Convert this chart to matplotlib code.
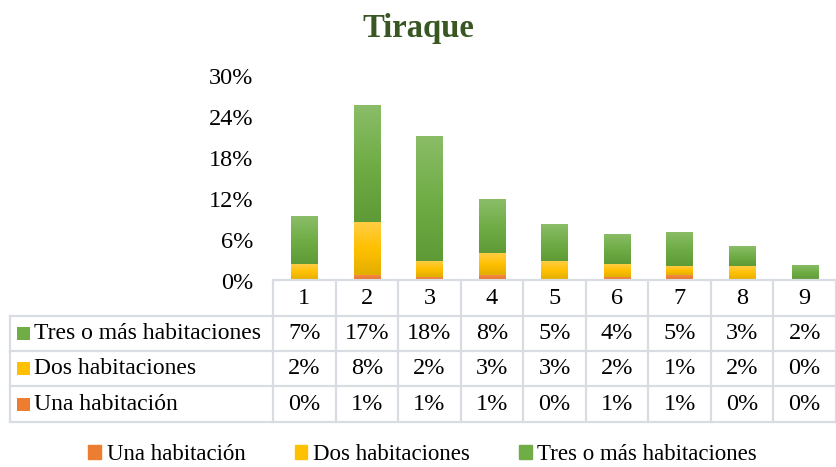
import numpy as np
import matplotlib
matplotlib.use("Agg")
import matplotlib.pyplot as plt
from matplotlib.colors import LinearSegmentedColormap
from matplotlib.lines import Line2D
from matplotlib.patches import Rectangle
from matplotlib.transforms import blended_transform_factory

plt.rcParams['font.family'] = ['Liberation Serif', 'DejaVu Serif']

categories = ['1', '2', '3', '4', '5', '6', '7', '8', '9']
series_names = ['Una habitación', 'Dos habitaciones', 'Tres o más habitaciones']
una = [0.002, 0.009, 0.006, 0.009, 0.002, 0.006, 0.009, 0.002, 0.000]
dos = [0.023, 0.077, 0.023, 0.032, 0.027, 0.019, 0.013, 0.020, 0.001]
tres = [0.070, 0.172, 0.183, 0.079, 0.054, 0.044, 0.050, 0.029, 0.022]
yticks = [0, 0.06, 0.12, 0.18, 0.24, 0.30]

# gradient stops (top, middle, bottom) per series
grad = {
    'Una habitación': ['#f6925a', '#ed7d31', '#d96a1f'],
    'Dos habitaciones': ['#ffcd45', '#ffc000', '#e3ae00'],
    'Tres o más habitaciones': ['#8bbd68', '#70ad47', '#5e9b36'],
}
grid_col = '#d9dde3'
W, H = 837, 467
fs = 17.5

fig = plt.figure(figsize=(W / 100, H / 100), dpi=100)
ax = fig.add_axes([273 / W, 1 - 281 / H, (836 - 273) / W, (281 - 76) / H])

x = np.arange(len(categories))
bottom = np.zeros(len(categories))
values = [una, dos, tres]
for name, vals in zip(series_names, values):
    bars = ax.bar(x, vals, 0.42, bottom=bottom, color=grad[name][1], linewidth=0)
    cmap = LinearSegmentedColormap.from_list(name, grad[name][::-1])
    g = np.linspace(0, 1, 64).reshape(-1, 1)
    for b in bars:
        if b.get_height() <= 0:
            continue
        bx, by = b.get_x(), b.get_y()
        im = ax.imshow(g, cmap=cmap, aspect='auto', origin='lower',
                       extent=[bx, bx + b.get_width(), by, by + b.get_height()],
                       zorder=2)
        im.set_clip_path(b)
    bottom += np.array(vals)
ax.set_xlim(-0.5, len(categories) - 0.5)
ax.set_ylim(0, 0.30)

for s in ax.spines.values():
    s.set_visible(False)
ax.set_xticks([])
ax.set_yticks(yticks)
ax.set_yticklabels([f'{v:.0%}' for v in yticks], fontsize=fs)
ax.tick_params(axis='y', length=0, pad=14)

fig.text(0.5, 1 - 28 / H, 'Tiraque', ha='center', va='center',
         fontsize=23.5, fontweight='bold', color='#385723')

# data table below the plot
tr = blended_transform_factory(ax.transData, fig.transFigure)
fy = lambda py: 1 - py / H
fx = lambda px: px / W
row_edges = [280, 316, 351, 386, 422]
xl, xr = -0.5, len(categories) - 0.5

def hline(y, x0, x1, trans):
    fig.add_artist(Line2D([x0, x1], [fy(y), fy(y)], transform=trans,
                          color=grid_col, lw=1.6))

hline(row_edges[0], xl, xr, tr)
for y in row_edges[1:]:
    hline(y, fx(10), fx(836), fig.transFigure)
for i in range(len(categories) + 1):
    fig.add_artist(Line2D([i - 0.5, i - 0.5], [fy(row_edges[0]), fy(row_edges[-1])],
                          transform=tr, color=grid_col, lw=1.6))
fig.add_artist(Line2D([fx(10), fx(10)], [fy(row_edges[1]), fy(row_edges[-1])],
                      transform=fig.transFigure, color=grid_col, lw=1.6))

for i, c in enumerate(categories):
    fig.text(i, fy((row_edges[0] + row_edges[1]) / 2), c, transform=tr,
             ha='center', va='center', fontsize=fs)

rows = list(zip(series_names, values))[::-1]
for r, (name, vals) in enumerate(rows):
    yc = (row_edges[r + 1] + row_edges[r + 2]) / 2
    fig.add_artist(Rectangle((fx(17), fy(yc + 6.5)), 13 / W, 13 / H,
                             transform=fig.transFigure, color=grad[name][1], lw=0))
    fig.text(fx(34), fy(yc), name, ha='left', va='center', fontsize=fs - 0.5)
    for i, v in enumerate(vals):
        fig.text(i, fy(yc), f'{v:.0%}', transform=tr,
                 ha='center', va='center', fontsize=fs)

handles = [Rectangle((0, 0), 1, 1, color=grad[n][1]) for n in series_names]
fig.legend(handles, series_names, loc='center', bbox_to_anchor=(0.505, fy(455)),
           ncol=3, frameon=False, fontsize=16.5, handlelength=0.55, handleheight=0.55,
           handletextpad=0.25, columnspacing=2.15)

fig.savefig('out.png', dpi=100)
